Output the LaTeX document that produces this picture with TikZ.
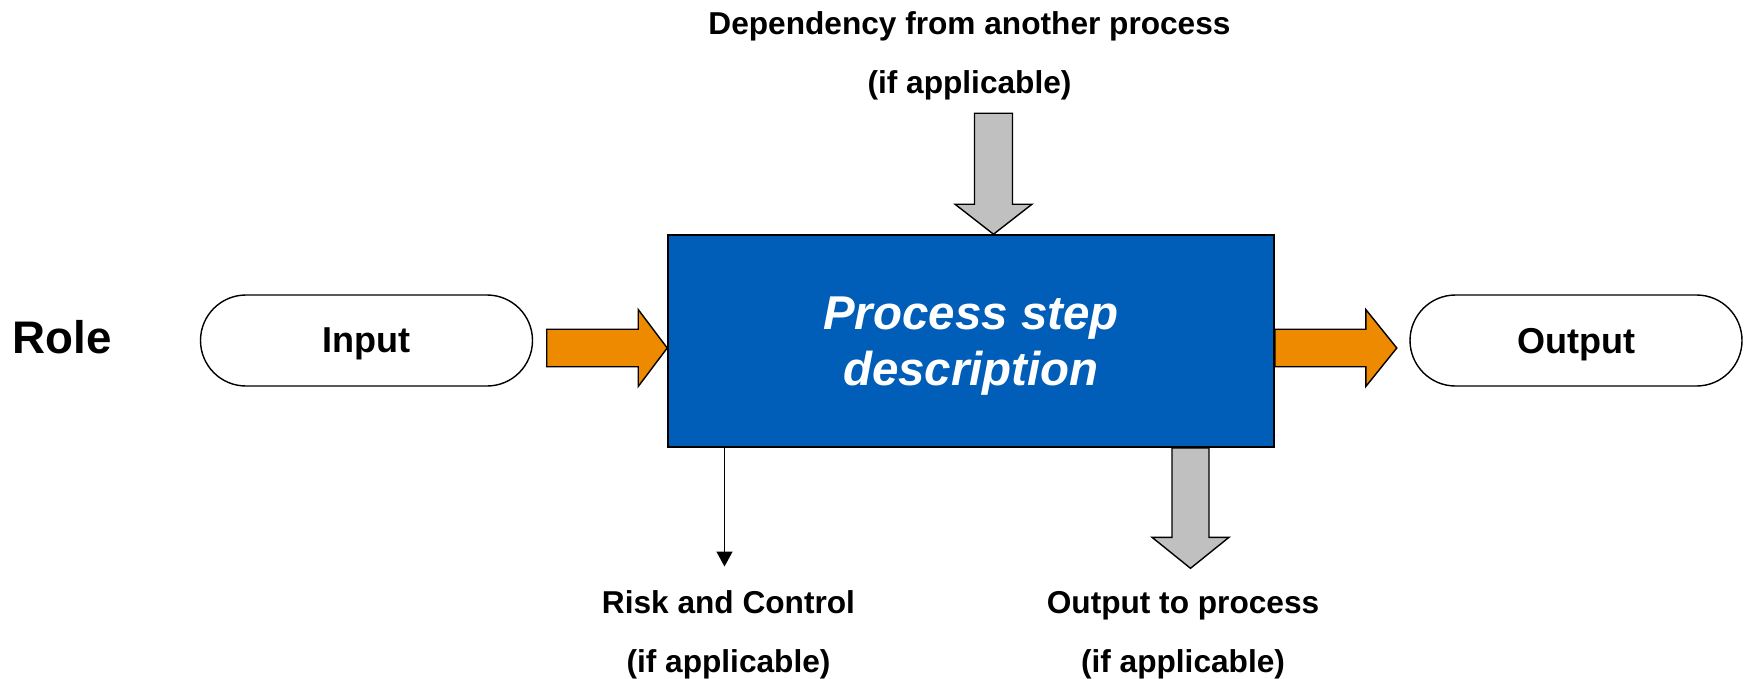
\documentclass[tikz,border=0pt]{standalone}
\usepackage{fontspec}
\setmainfont{Liberation Sans}
\usepackage{tikz}
\usetikzlibrary{arrows.meta, positioning, calc}
\definecolor{stepblue}{RGB}{0,94,184}
\definecolor{flowOrange}{RGB}{238,138,0}
\definecolor{depGrey}{RGB}{192,192,192}

\begin{document}
\begin{tikzpicture}[
    rolelabel/.style={font=\fontsize{26}{30}\selectfont\bfseries},
    terminal/.style={rectangle, draw, line width=0.8pt, rounded corners=0.91cm, minimum width=6.64cm, minimum height=1.82cm, text depth=0pt, font=\fontsize{20.5}{24}\selectfont\bfseries},
    stepbox/.style={rectangle, draw, line width=0.9pt, fill=stepblue, text=white, minimum width=12.12cm, minimum height=4.24cm, align=center, text depth=0pt, font=\fontsize{27}{31.8}\selectfont\bfseries\itshape},
    note/.style={align=center, font=\fontsize{18}{33.5}\selectfont\bfseries},
    flowarrow/.style={draw, line width=0.8pt, fill=flowOrange},
    deparrow/.style={draw, line width=0.8pt, fill=depGrey},
    arrow/.style={-{Triangle[length=3mm, width=3.2mm]}, line width=0.8pt}
]
\useasboundingbox (0,0) rectangle (34.96,-13.56);

\node[rolelabel] (role) at (1.25,-6.74) {Role};
\node[terminal] (input) at (7.33,-6.81) {Input};
\node[stepbox] (proc) at (19.42,-6.82) {Process step\\description};
\node[terminal] (output) at (31.52,-6.81) {Output};
\node[note] (dep) at (19.39,-1.12) {Dependency from another process\\(if applicable)};
\node[note] (risk) at (14.57,-12.70) {Risk and Control\\(if applicable)};
\node[note] (outproc) at (23.66,-12.70) {Output to process\\(if applicable)};
\coordinate (riskend) at (14.49,-11.33);

\draw[flowarrow] ([yshift=-0.14cm]proc.west) -- ++(-0.58,0.77) -- ++(0,-0.395) -- ++(-1.83,0) -- ++(0,-0.75) -- ++(1.83,0) -- ++(0,-0.395) -- cycle;
\draw[flowarrow] ([yshift=-0.14cm]proc.east) ++(0,0.375) -- ++(1.82,0) -- ++(0,0.395) -- ++(0.62,-0.77) -- ++(-0.62,-0.77) -- ++(0,0.395) -- ++(-1.82,0) -- cycle;
\draw[deparrow] ([xshift=0.45cm]proc.north) -- ++(-0.77,0.6) -- ++(0.39,0) -- ++(0,1.82) -- ++(0.76,0) -- ++(0,-1.82) -- ++(0.39,0) -- cycle;
\draw[deparrow] ([xshift=4.39cm]proc.south) ++(-0.37,0) -- ++(0,-1.79) -- ++(-0.4,0) -- ++(0.77,-0.62) -- ++(0.77,0.62) -- ++(-0.4,0) -- ++(0,1.79) -- cycle;
\draw[arrow] (proc.south -| riskend) -- (riskend);
\end{tikzpicture}
\end{document}
